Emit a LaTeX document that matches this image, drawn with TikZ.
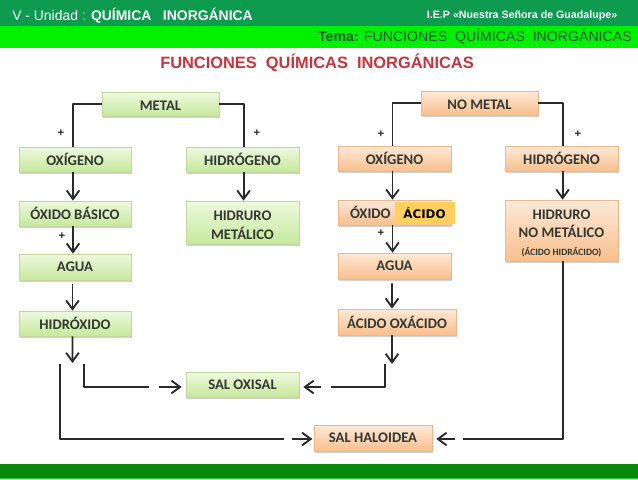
\documentclass[tikz,border=0pt]{standalone}
\usepackage{fontspec}
\setmainfont{Liberation Sans}
\newfontfamily\boxfont{Carlito}[Scale=1]
\newfontfamily\yelfont{DejaVu Sans}
\usetikzlibrary{arrows.meta,shadows,calc}
\definecolor{hdark}{HTML}{0E9B50}
\definecolor{hbright}{HTML}{00F000}
\definecolor{fband}{HTML}{078A0A}
\definecolor{fline}{HTML}{35C545}
\definecolor{gtop}{HTML}{EEF9DF}
\definecolor{gbot}{HTML}{C6E89C}
\definecolor{gedge}{HTML}{C0D8A0}
\definecolor{otop}{HTML}{FDE9D8}
\definecolor{obot}{HTML}{F8BF8C}
\definecolor{oedge}{HTML}{EBB88E}
\definecolor{ink}{HTML}{2A2A2A}
\definecolor{boxink}{HTML}{333832}
\definecolor{titlered}{HTML}{C8343E}
\definecolor{hgreen}{HTML}{0B5B2A}
\definecolor{yel}{HTML}{FFD060}
\tikzset{
  basebox/.style={rectangle,inner sep=0pt,align=center,font=\boxfont\bfseries\fontsize{11}{14}\selectfont,text=boxink,
    drop shadow={shadow xshift=.5pt,shadow yshift=-1.2pt,opacity=.35}},
  gbox/.style={basebox,draw=gedge,line width=.5pt,top color=gtop,bottom color=gbot},
  obox/.style={basebox,draw=oedge,line width=.5pt,top color=otop,bottom color=obot},
  conn/.style={draw=ink,line width=1.4pt,line join=round},
  arr/.style={conn,-{Straight Barb[length=6.5pt,width=9.5pt,line width=1.4pt]}},
  plus/.style={font=\bfseries\fontsize{8.5}{8}\selectfont,text=ink,inner sep=0pt},
}
\newcommand{\boxat}[8]{% style,name,x0,y0,x1,y1,text
  \node[#1,minimum width={(#5-#3)*.75pt},minimum height={(#6-#4)*.75pt}] (#2) at ({(#3+#5)/2},{(#4+#6)/2}) {#7};#8}
\begin{document}
\begin{tikzpicture}[x=.75pt,y=-.75pt]
\useasboundingbox (0,0) rectangle (638,479);
\fill[white] (0,0) rectangle (638,479);
\fill[hdark] (0,0) rectangle (638,26);
\fill[hbright] (0,26) rectangle (638,48);
\fill[fband] (0,464) rectangle (638,478);
\fill[fline] (0,478) rectangle (638,479);
\node[anchor=west,inner sep=0pt,text=white,font=\fontsize{10.45}{12}\selectfont] (unit) at (12,16) {V - Unidad : \textbf{QUÍMICA\ \ \ INORGÁNICA}};
\node[anchor=east,inner sep=0pt,text=white,font=\bfseries\fontsize{8}{10}\selectfont] (iep) at (617.5,15.5) {I.E.P «Nuestra Señora de Guadalupe»};
\node[anchor=east,inner sep=0pt,text=hgreen,font=\fontsize{10.6}{12}\selectfont] (tema) at (632,36.5) {\textbf{Tema:} FUNCIONES\ \ QUÍMICAS\ \ INORGÁNICAS};
\node[inner sep=0pt,text=titlered,font=\bfseries\fontsize{12.3}{14}\selectfont] (title) at (317,62.5) {FUNCIONES\ \ QUÍMICAS\ \ INORGÁNICAS};

\boxat{gbox}{metal}{102}{92}{219}{116}{\rule{0pt}{10pt}METAL}{}
\boxat{gbox}{oxl}{19}{147}{131}{172}{OXÍGENO}{}
\boxat{gbox}{hil}{186}{147}{299}{172}{HIDRÓGENO}{}
\boxat{gbox}{oxb}{19}{201}{131}{226}{ÓXIDO BÁSICO}{}
\boxat{gbox}{hme}{186}{201}{299}{244}{\rule{0pt}{11pt}HIDRURO\\METÁLICO}{}
\boxat{gbox}{agl}{19}{254}{131}{280}{AGUA}{}
\boxat{gbox}{hid}{19}{311}{131}{336}{HIDRÓXIDO}{}
\boxat{gbox}{sox}{186}{372}{299}{397}{SAL OXISAL}{}
\boxat{obox}{nom}{421}{91}{538}{115}{\rule{0pt}{10pt}NO METAL}{}
\boxat{obox}{oxr}{338}{146}{451}{171}{OXÍGENO}{}
\boxat{obox}{hir}{505}{146}{618}{171}{HIDRÓGENO}{}
\node[obox,minimum width={113*.75pt},minimum height={25*.75pt},text width={89*.75pt},align=left] (oxa) at (394.5,212.5) {ÓXIDO};
\boxat{obox}{hnm}{505}{200}{618}{261}{\rule{0pt}{11pt}HIDRURO\\NO METÁLICO\\[-1pt]{\fontsize{7.2}{9}\selectfont (ÁCIDO HIDRÁCIDO)}}{}
\boxat{obox}{agr}{338}{253}{451}{279}{AGUA}{}
\boxat{obox}{aco}{338}{309}{456}{335}{ÁCIDO OXÁCIDO}{}
\boxat{obox}{sha}{314}{425}{432}{451}{SAL HALOIDEA}{}
\node[rectangle,fill=yel,minimum width={60*.75pt},minimum height={22*.75pt},inner sep=0pt,text=black,font=\yelfont\bfseries\fontsize{8.9}{10}\selectfont] (acy) at (424.5,213) {ÁCIDO};

\path (60,364) coordinate (lh1) (60,439) coordinate (lh2) (284,439) coordinate (lh3) (292,439) coordinate (ah3)
      (84,364) coordinate (lo1) (84,387) coordinate (lo2) (149,387) coordinate (lo3) (159,387) coordinate (ao3)
      (385,364) coordinate (ro1) (385,387) coordinate (ro2) (331,387) coordinate (ro3) (321,387) coordinate (aro3)
      (566,439) coordinate (rh2) (463,439) coordinate (rh3) (455,439) coordinate (arh3)
      (72.5,363) coordinate (hidend) (392,364) coordinate (acoend);

\draw[conn] (metal.west) -| ([xshift=-1.5pt]oxl.north);
\draw[conn] (metal.east) -| ([xshift=.8pt]hil.north);
\draw[conn] (nom.west) -| ([xshift=-1.5pt]oxr.north);
\draw[conn] (nom.east) -| ([xshift=.8pt]hir.north);
\draw[arr] ([xshift=-1.5pt]oxl.south) -- ([xshift=-1.5pt]oxb.north);
\draw[arr] ([xshift=.8pt]hil.south) -- ([xshift=.8pt]hme.north);
\draw[arr] ([xshift=-1.5pt]oxb.south) -- ([xshift=-1.5pt]agl.north);
\draw[arr] ([xshift=-1.9pt,yshift=-3pt]agl.south) -- ([xshift=-1.9pt]hid.north);
\draw[arr] ([xshift=-1.9pt]hid.south) -- (hidend);
\draw[arr] ([xshift=-1.5pt]oxr.south) -- ([xshift=-1.5pt]oxa.north);
\draw[arr] ([xshift=.8pt]hir.south) -- ([xshift=.8pt]hnm.north);
\draw[arr] ([xshift=-1.5pt]oxa.south) -- ([xshift=-1.5pt]agr.north);
\draw[arr] ([xshift=-1.9pt,yshift=-3pt]agr.south) -- ([xshift=-3.75pt]aco.north);
\draw[arr] ([xshift=-3.75pt]aco.south) -- (acoend);
\draw[conn] (lh1) -- (lh2) -- (lh3);
\draw[arr] (ah3) -- ([xshift=-1pt]sha.west |- ah3);
\draw[conn] (lo1) -- (lo2) -- (lo3);
\draw[arr] (ao3) -- ([xshift=-3pt]sox.west |- ao3);
\draw[conn] (ro1) -- (ro2) -- (ro3);
\draw[arr] (aro3) -- ([xshift=3pt]sox.east |- aro3);
\draw[conn] ([xshift=.8pt]hnm.south) |- (rh3);
\draw[arr] (arh3) -- ([xshift=3pt]sha.east |- arh3);

\node[plus] (p1) at (61,133) {+};
\node[plus] (p2) at (257,133) {+};
\node[plus] (p3) at (62,236) {+};
\node[plus] (p4) at (381,134) {+};
\node[plus] (p5) at (578,134) {+};
\node[plus] (p6) at (381,233) {+};
\end{tikzpicture}
\end{document}
